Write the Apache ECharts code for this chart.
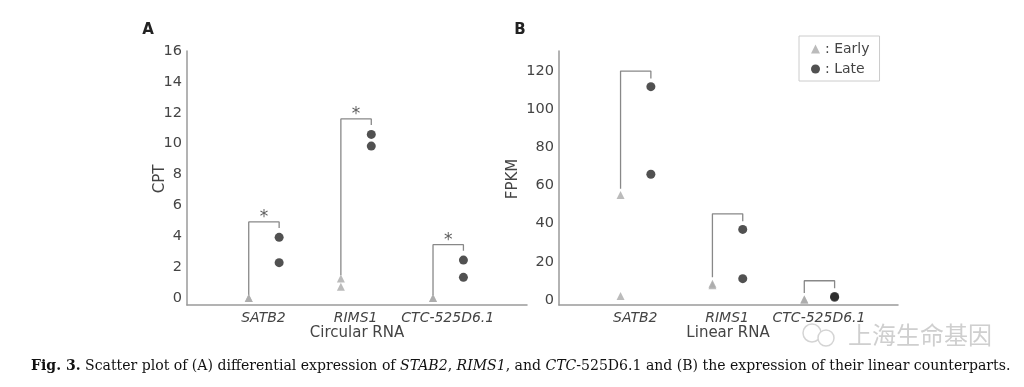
<!DOCTYPE html>
<html><head><meta charset="utf-8">
<script src="https://cdn.jsdelivr.net/npm/echarts@6/dist/echarts.min.js"></script>
<style>html,body{margin:0;padding:0;background:#fff}#c{width:1024px;height:387px}</style>
</head><body><div id="c"></div>
<script>
// ---- data ----
const categories = ['SATB2', 'RIMS1', 'CTC-525D6.1'];
// Panel A: circular RNA, CPT (two samples per group)
const circEarly = [[0, 0], [1.27, 0.73], [0, 0]];
const circLate = [[3.93, 2.29], [10.6, 9.84], [2.46, 1.34]];
// Panel B: linear RNA, FPKM
const linEarly = [[55, 2.1], [8.6, 7.8], [0.4, 0.2]];
const linLate = [[111.8, 65.9], [37, 11.2], [1.9, 1.4]];
const circTicks = [0, 2, 4, 6, 8, 10, 12, 14, 16];
const linTicks = [0, 20, 40, 60, 80, 100, 120];
const circSignificant = [true, true, true];
const linSignificant = [false, false, false];

// ---- styling / layout ----
const EARLY_OFF = -0.16, LATE_OFF = 0.17;
const axisCol = '#9a9a9a', labelCol = '#444';
const font = 'DejaVu Sans';

function pts(groups, off) {
  const out = [];
  groups.forEach((g, i) => g.forEach(v => out.push([i + off, v])));
  return out;
}
function brackets(early, late, grid, topOff, rightGap, leftGap, color) {
  return early.map((e, i) => {
    const eMax = Math.max(...e), lMax = Math.max(...late[i]);
    const top = lMax + topOff;
    return {
      type: 'line', xAxisIndex: grid, yAxisIndex: grid, silent: true,
      symbol: 'none', lineStyle: { color: color, width: 1.3 },
      data: [[i + EARLY_OFF, eMax + leftGap], [i + EARLY_OFF, top], [i + LATE_OFF, top], [i + LATE_OFF, lMax + rightGap]],
      z: 1
    };
  });
}
function stars(early, late, grid, sig, topOff, starOff) {
  const d = [];
  late.forEach((l, i) => { if (sig[i]) d.push([i + (EARLY_OFF + LATE_OFF) / 2, Math.max(...l) + topOff + starOff]); });
  return {
    type: 'scatter', xAxisIndex: grid, yAxisIndex: grid, silent: true, symbolSize: 1,
    itemStyle: { color: 'rgba(0,0,0,0)' }, data: d,
    label: { show: true, position: 'inside', formatter: '*', fontSize: 17, color: '#333', fontFamily: font, offset: [0, 3] }
  };
}
function xAx(grid) {
  return {
    type: 'value', gridIndex: grid, min: -0.83, max: 2.86, splitLine: { show: false },
    axisLine: { onZero: false, lineStyle: { color: axisCol, width: 1.5 } }, axisTick: { show: false },
    axisLabel: { customValues: [0, 1, 2], formatter: v => categories[Math.round(v)], fontStyle: 'italic',
      fontFamily: font, fontSize: 14, color: labelCol, margin: 6 }
  };
}
function yAx(grid, min, max, ticks) {
  return {
    type: 'value', gridIndex: grid, min: min, max: max, splitLine: { show: false },
    axisLine: { show: true, onZero: false, lineStyle: { color: axisCol, width: 1.5 } }, axisTick: { show: false },
    axisLabel: { customValues: ticks, fontFamily: font, fontSize: 14.5, color: labelCol, margin: 5 }
  };
}
const earlyStyle = { color: '#aaaaaa' }, lateStyle = { color: '#262626' };

const chart = echarts.init(document.getElementById('c'), null, { renderer: 'canvas' });
chart.setOption({
  animation: false,
  backgroundColor: '#fff',
  grid: [
    { left: 187, width: 340, top: 51, bottom: 82 },
    { left: 559, width: 339, top: 51, bottom: 82 }
  ],
  xAxis: [xAx(0), xAx(1)],
  yAxis: [yAx(0, -0.45, 16, circTicks), yAx(1, -2.6, 130.5, linTicks)],
  legend: {
    orient: 'vertical', left: 799, top: 36, padding: [6, 10, 5, 12], itemGap: 6,
    borderColor: '#cccccc', borderWidth: 1, itemWidth: 9, itemHeight: 9,
    textStyle: { fontFamily: font, fontSize: 14, color: labelCol },
    formatter: n => ': ' + n,
    data: [{ name: 'Early', icon: 'triangle', itemStyle: { color: '#aaaaaa' } },
           { name: 'Late', icon: 'circle', itemStyle: { color: '#262626' } }]
  },
  series: [
    { name: 'Early', type: 'scatter', xAxisIndex: 0, yAxisIndex: 0, symbol: 'triangle', symbolSize: 8, itemStyle: earlyStyle, data: pts(circEarly, EARLY_OFF), z: 3 },
    { name: 'Late', type: 'scatter', xAxisIndex: 0, yAxisIndex: 0, symbol: 'circle', symbolSize: 9, itemStyle: lateStyle, data: pts(circLate, LATE_OFF), z: 3 },
    { name: 'Early', type: 'scatter', xAxisIndex: 1, yAxisIndex: 1, symbol: 'triangle', symbolSize: 8, itemStyle: earlyStyle, data: pts(linEarly, EARLY_OFF), z: 3 },
    { name: 'Late', type: 'scatter', xAxisIndex: 1, yAxisIndex: 1, symbol: 'circle', symbolSize: 9, itemStyle: lateStyle, data: pts(linLate, LATE_OFF), z: 3 },
    ...brackets(circEarly, circLate, 0, 1.0, 0.6, 0.2, '#888'),
    ...brackets(linEarly, linLate, 1, 8.2, 4.3, 3.3, '#888'),
    stars(circEarly, circLate, 0, circSignificant, 1.0, 0.45)
  ],
  graphic: [
    { type: 'text', style: { x: 148, y: 30, text: 'A', font: 'bold 15px "DejaVu Sans"', fill: '#222', textAlign: 'center', textVerticalAlign: 'middle' } },
    { type: 'text', style: { x: 520, y: 30, text: 'B', font: 'bold 15px "DejaVu Sans"', fill: '#222', textAlign: 'center', textVerticalAlign: 'middle' } },
    { type: 'text', x: 160, y: 179, rotation: Math.PI / 2, style: { x: 0, y: 0, text: 'CPT', font: '15px "DejaVu Sans"', fill: labelCol, textAlign: 'center', textVerticalAlign: 'middle' } },
    { type: 'text', x: 513, y: 179, rotation: Math.PI / 2, style: { x: 0, y: 0, text: 'FPKM', font: '15px "DejaVu Sans"', fill: labelCol, textAlign: 'center', textVerticalAlign: 'middle' } },
    { type: 'text', style: { x: 357, y: 333, text: 'Circular RNA', font: '15px "DejaVu Sans"', fill: labelCol, textAlign: 'center', textVerticalAlign: 'middle' } },
    { type: 'text', style: { x: 728, y: 333, text: 'Linear RNA', font: '15px "DejaVu Sans"', fill: labelCol, textAlign: 'center', textVerticalAlign: 'middle' } },
    { type: 'circle', shape: { cx: 812, cy: 333, r: 9 }, style: { fill: 'none', stroke: '#d4d4d4', lineWidth: 1.5 } },
    { type: 'circle', shape: { cx: 826, cy: 338, r: 8 }, style: { fill: '#fff', stroke: '#d4d4d4', lineWidth: 1.5 } },
    { type: 'text', style: { x: 848, y: 335, text: '上海生命基因', font: '24px "Noto Sans CJK SC"', fill: '#cfcfcf', textAlign: 'left', textVerticalAlign: 'middle' } },
    { type: 'text', style: { x: 31, y: 366, textVerticalAlign: 'middle',
      text: '{b|Fig. 3.} Scatter plot of (A) differential expression of {i|STAB2}, {i|RIMS1}, and {i|CTC}-525D6.1 and (B) the expression of their linear counterparts.',
      font: '14.05px "DejaVu Serif"', fill: '#111',
      rich: {
        b: { fontFamily: 'DejaVu Serif', fontWeight: 'bold', fontSize: 14.05, fill: '#111' },
        i: { fontFamily: 'DejaVu Serif', fontStyle: 'italic', fontSize: 14.05, fill: '#111' }
      } } }
  ]
});
</script></body></html>
